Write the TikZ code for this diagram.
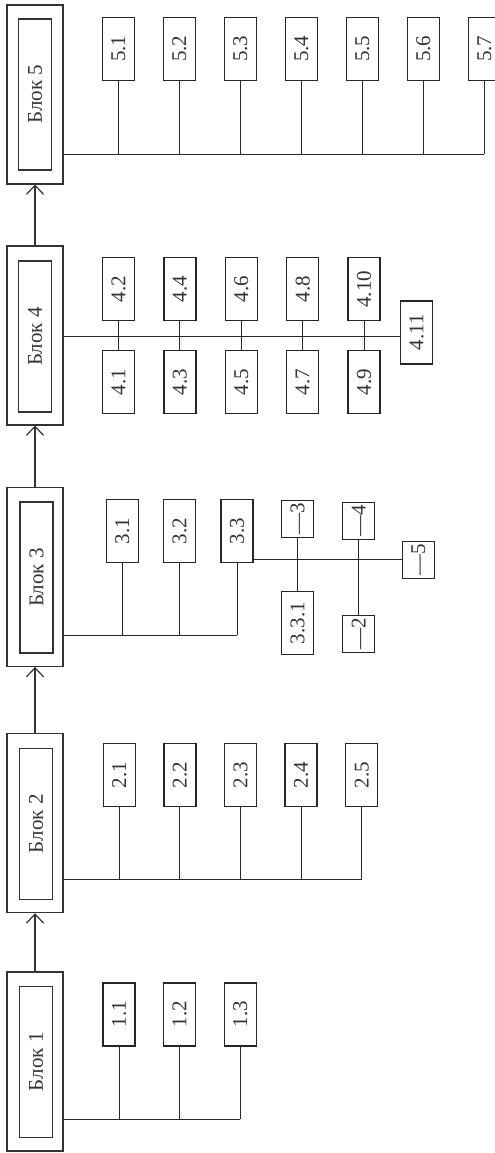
\documentclass[tikz,border=0pt]{standalone}
\usepackage{fontspec}
\setmainfont{Liberation Serif}
\usetikzlibrary{arrows.meta,
                positioning}
\tikzset{
	%Define standard arrow tip
	>={Straight Barb[length=4.5pt,width=8.5pt]},
	%Define style for the big blocks
	blok/.style={
	       rectangle,
	       draw=black!80, line width=0.7pt,
	       minimum width=28pt,
	       minimum height=89.5pt,
	       inner sep=0pt},
	blokin/.style={
	       rectangle,
	       draw=black!80, line width=0.7pt,
	       minimum width=16.5pt,
	       minimum height=75.5pt,
	       inner sep=0pt,
	       text=black!80},
	%Define style for the small boxes
	punkt/.style={
	       rectangle,
	       draw=black!85, line width=0.7pt,
	       minimum width=16pt,
	       minimum height=31.5pt,
	       inner sep=0pt,
	       text=black!80},
	punktk/.style={
	       punkt,
	       minimum height=18.5pt},
	% Define line styles
	pil/.style={
	       ->,
	       draw=black!80,
	       line width=0.6pt},
	lin/.style={
	       draw=black!85,
	       line width=0.5pt}
}

\begin{document}
\begin{tikzpicture}[x=0.5pt, y=-0.5pt, font=\fontsize{10.5}{12}\selectfont] % pixel grid
	\useasboundingbox (0,0) rectangle (494,1153);
	% blocks
	\node[blok](blok5) at (35,94.3){};
	\node[blokin](blok5_in) at (blok5){\rotatebox{90}{Блок 5}};
	\node[blok](blok4) at (35,335.3){};
	\node[blokin](blok4_in) at (35,336.5){\rotatebox{90}{Блок 4}};
	\node[blok](blok3) at (35,576.7){};
	\node[blokin](blok3_in) at (36.5,577.5){\rotatebox{90}{Блок 3}};
	\node[blok](blok2) at (35,823){};
	\node[blokin](blok2_in) at (36,823.7){\rotatebox{90}{Блок 2}};
	\node[blok](blok1) at (35,1061.3){};
	\node[blokin](blok1_in) at (36,1061.7){\rotatebox{90}{Блок 1}};
	\draw[pil] (blok1.north) -- (blok2.south);
	\draw[pil] (blok2.north) -- (blok3.south);
	\draw[pil] (blok3.north) -- (blok4.south);
	\draw[pil] (blok4.north) -- (blok5.south);
	% bus levels
	\coordinate (j5) at (0,154);
	\coordinate (j4) at (0,336);
	\coordinate (j3) at (0,635.3);
	\coordinate (j2) at (0,879);
	\coordinate (j1) at (0,1119);
	% block 5
	\node[punkt](p5_1) at (118.3,48.7){\rotatebox{90}{5.1}};
	\node[punkt, right=13.8pt of p5_1](p5_2){\rotatebox{90}{5.2}};
	\node[punkt, right=13.8pt of p5_2](p5_3){\rotatebox{90}{5.3}};
	\node[punkt, right=13.8pt of p5_3](p5_4){\rotatebox{90}{5.4}};
	\node[punkt, right=13.8pt of p5_4](p5_5){\rotatebox{90}{5.5}};
	\node[punkt, right=13.8pt of p5_5](p5_6){\rotatebox{90}{5.6}};
	\node[punkt, right=13.8pt of p5_6](p5_7){\rotatebox{90}{5.7}};
	\draw[lin] (blok5.east |- j5) -- (p5_7.south |- j5);
	\draw[lin] (p5_1.south) -- (p5_1.south |- j5)
	           (p5_2.south) -- (p5_2.south |- j5)
	           (p5_3.south) -- (p5_3.south |- j5)
	           (p5_4.south) -- (p5_4.south |- j5)
	           (p5_5.south) -- (p5_5.south |- j5)
	           (p5_6.south) -- (p5_6.south |- j5)
	           (p5_7.south) -- (p5_7.south |- j5);
	% block 4
	\node[punkt](p4_2) at (118.5,289.2){\rotatebox{90}{4.2}};
	\node[punkt, right=14pt of p4_2](p4_4){\rotatebox{90}{4.4}};
	\node[punkt, right=14pt of p4_4](p4_6){\rotatebox{90}{4.6}};
	\node[punkt, right=14pt of p4_6](p4_8){\rotatebox{90}{4.8}};
	\node[punkt, right=14pt of p4_8](p4_10){\rotatebox{90}{4.10}};
	\node[punkt, below=14.3pt of p4_2](p4_1){\rotatebox{90}{4.1}};
	\node[punkt, below=14.3pt of p4_4](p4_3){\rotatebox{90}{4.3}};
	\node[punkt, below=14.3pt of p4_6](p4_5){\rotatebox{90}{4.5}};
	\node[punkt, below=14.3pt of p4_8](p4_7){\rotatebox{90}{4.7}};
	\node[punkt, below=14.3pt of p4_10](p4_9){\rotatebox{90}{4.9}};
	\node[punkt](p4_11) at (416.7,332.3){\rotatebox{90}{4.11}};
	\draw[lin] (blok4.east |- j4) -- (p4_11.west |- j4);
	\draw[lin] (p4_2.south) -- (p4_1.north)
	           (p4_4.south) -- (p4_3.north)
	           (p4_6.south) -- (p4_5.north)
	           (p4_8.south) -- (p4_7.north)
	           (p4_10.south) -- (p4_9.north);
	% block 3
	\node[punkt](p3_1) at (122.2,531){\rotatebox{90}{3.1}};
	\node[punkt, right=12pt of p3_1](p3_2){\rotatebox{90}{3.2}};
	\node[punkt, right=12pt of p3_2](p3_3){\rotatebox{90}{3.3}};
	\node[punktk](p3k3) at (297.5,519.2){\rotatebox{90}{\textemdash3}};
	\node[punktk](p3k4) at (358.6,520.8){\rotatebox{90}{\textemdash4}};
	\node[punktk](p3k5) at (418.3,559.7){\rotatebox{90}{\textemdash5}};
	\node[punkt, below=26.3pt of p3k3](p3_3_1){\rotatebox{90}{3.3.1}};
	\node[punktk, below=37.5pt of p3k4](p3k2){\rotatebox{90}{\textemdash2}};
	\draw[lin] (blok3.east |- j3) -- (p3_3.south |- j3);
	\draw[lin] (p3_1.south) -- (p3_1.south |- j3)
	           (p3_2.south) -- (p3_2.south |- j3)
	           (p3_3.south) -- (p3_3.south |- j3);
	\draw[lin] (p3k5.west) -- (p3k5.west -| p3_3.east);
	\draw[lin] (p3k3.south) -- (p3_3_1.north);
	\draw[lin] (p3k4.south) -- (p3k2.north);
	% block 2
	\node[punkt](p2_1) at (119.3,775){\rotatebox{90}{2.1}};
	\node[punkt, right=13.6pt of p2_1](p2_2){\rotatebox{90}{2.2}};
	\node[punkt, right=13.6pt of p2_2](p2_3){\rotatebox{90}{2.3}};
	\node[punkt, right=13.6pt of p2_3](p2_4){\rotatebox{90}{2.4}};
	\node[punkt, right=13.6pt of p2_4](p2_5){\rotatebox{90}{2.5}};
	\draw[lin] (blok2.east |- j2) -- (p2_5.south |- j2);
	\draw[lin] (p2_1.south) -- (p2_1.south |- j2)
	           (p2_2.south) -- (p2_2.south |- j2)
	           (p2_3.south) -- (p2_3.south |- j2)
	           (p2_4.south) -- (p2_4.south |- j2)
	           (p2_5.south) -- (p2_5.south |- j2);
	% block 1
	\node[punkt](p1_1) at (119,1014.3){\rotatebox{90}{1.1}};
	\node[punkt, right=13.6pt of p1_1](p1_2){\rotatebox{90}{1.2}};
	\node[punkt, right=13.6pt of p1_2](p1_3){\rotatebox{90}{1.3}};
	\draw[lin] (blok1.east |- j1) -- (p1_3.south |- j1);
	\draw[lin] (p1_1.south) -- (p1_1.south |- j1)
	           (p1_2.south) -- (p1_2.south |- j1)
	           (p1_3.south) -- (p1_3.south |- j1);
\end{tikzpicture}
\end{document}
